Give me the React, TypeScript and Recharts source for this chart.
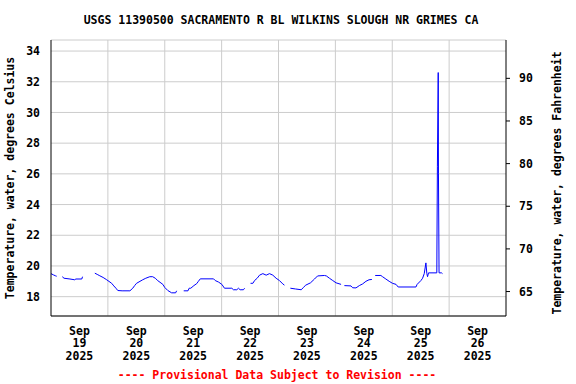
import React from 'react';
import { LineChart, Line, XAxis, YAxis, CartesianGrid, ReferenceLine } from 'recharts';

// hours since Sep 19 2025 00:00 (null = gap in record)
const hours = [
  0, 1, 2, 2.4, 3,
  4.75, 5.5, 8, 10, 10.5, 13, 13.3, 15,
  18.5, 19.5, 20.6, 22, 23.5, 25.6, 26.5, 27.4, 28.2, 30, 33.3, 34.5, 35.3, 36.1,
  38.7, 40, 41.7, 42.9, 44, 45, 47.2, 48, 49.3, 50.9, 52.6, 53, 54.5,
  56, 57.8, 58.3, 59, 60.3, 61.5, 62.2, 63, 68.6, 69.3, 70.7, 72.1, 73.2, 76.3,
  77, 78.4, 79.1, 79.8, 81.2, 81.7, 83,
  84.2, 85.2, 85.9, 87, 88, 89.4, 90.8, 92.2, 93.6, 95, 96.4, 97.8, 98.5, 99.8,
  101, 103.2, 105.6, 106.5, 107.5, 109.5, 111.2, 112.5, 115.4, 116.2, 117.5,
  118.9, 120.3, 122.4, 123.1,
  123.8, 126.6, 127.3, 128.7, 130.1, 131.5, 132.9, 134.2, 135.4, 136.1,
  136.8, 139.2, 139.9, 141.3, 142.7, 144.1, 145.6, 146.5, 154, 154.5, 156.1,
  156.8, 157.5, 158.2, 158.6, 158.9, 159.3, 162.8, 163.05, 163.4, 163.5, 163.75,
  164.8, 165.2,
];

const tempC = [
  19.5, 19.42, 19.35, 19.33, null,
  19.3, 19.2, 19.15, 19.1, 19.15, 19.15, 19.3, null,
  19.53, 19.45, 19.36, 19.25, 19.1, 18.87, 18.7, 18.55, 18.4, 18.38, 18.38, 18.55, 18.72, 18.87,
  19.1, 19.2, 19.3, 19.3, 19.2, 19.05, 18.8, 18.6, 18.4, 18.25, 18.25, 18.38, null,
  18.38, 18.38, 18.55, 18.55, 18.72, 18.85, 19.0, 19.16, 19.16, 19.05, 18.95, 18.8, 18.55, 18.55,
  18.45, 18.45, 18.55, 18.45, 18.45, 18.55, null,
  18.87, 18.87, 19.05, 19.2, 19.4, 19.5, 19.4, 19.5, 19.4, 19.2, 19.05, 18.83, 18.75, null,
  18.55, 18.5, 18.45, 18.6, 18.75, 18.9, 19.15, 19.35, 19.38, 19.35, 19.2,
  19.05, 18.9, 18.8, null,
  18.72, 18.7, 18.58, 18.57, 18.72, 18.83, 19.0, 19.1, 19.12, null,
  19.38, 19.38, 19.3, 19.15, 19.0, 18.87, 18.8, 18.63, 18.63, 18.8, 19.05,
  19.2, 19.5, 20.2, 19.5, 19.3, 19.55, 19.55, 26.5, 32.6, 26.0, 19.55,
  19.55, 19.5,
];

const monthLabel = 'Sep';
const yearLabel = '2025';
const dayLabels = ['19', '20', '21', '22', '23', '24', '25', '26'];
const celsiusTicks = [18, 20, 22, 24, 26, 28, 30, 32, 34];
const fahrenheitTicks = [65, 70, 75, 80, 85, 90];
const midnightTicks = [24, 48, 72, 96, 120, 144, 168];

const cToF = (c: number) => c * 1.8 + 32;
const C_DOMAIN: [number, number] = [16.74, 34.72];
const F_DOMAIN: [number, number] = [cToF(C_DOMAIN[0]), cToF(C_DOMAIN[1])];
const X_DOMAIN: [number, number] = [0, 192];

const data = hours.map((h, i) => ({
  hour: h,
  tempC: tempC[i],
  tempF: tempC[i] == null ? null : cToF(tempC[i] as number),
}));

const labelTicks = dayLabels.map((_, i) => 12 + 24 * i);

const FONT = '"DejaVu Sans Mono", monospace';
const tickStyle = { fill: '#000', fontSize: 11.5, fontFamily: FONT, fontWeight: 'bold' as const };

const DateTick = (props: any) => {
  const { x, y, index } = props;
  return (
    <text x={x} textAnchor="middle" fill="#000" fontSize={11.5} fontFamily={FONT} fontWeight="bold">
      <tspan x={x} y={y + 18.5}>{monthLabel}</tspan>
      <tspan x={x} y={y + 31.3}>{dayLabels[index]}</tspan>
      <tspan x={x} y={y + 44}>{yearLabel}</tspan>
    </text>
  );
};

export default function App() {
  return (
    <div style={{ position: 'absolute', left: 0, top: 0, width: 576, height: 384, background: '#fff' }}>
      <LineChart
        width={576}
        height={384}
        data={data}
        margin={{ top: 40, right: 30, bottom: 18, left: 11 }}
      >
        <CartesianGrid yAxisId="c" vertical={false} stroke="#cccccc" strokeWidth={1} />
        {midnightTicks.map((t) => (
          <ReferenceLine key={t} x={t} yAxisId="c" stroke="#cccccc" strokeWidth={1} />
        ))}
        <XAxis
          dataKey="hour"
          type="number"
          domain={X_DOMAIN}
          ticks={labelTicks}
          interval={0}
          tick={<DateTick />}
          tickLine={false}
          tickSize={0}
          tickMargin={0}
          stroke="#000"
          height={50}
        />
        <XAxis
          xAxisId="top"
          orientation="top"
          dataKey="hour"
          type="number"
          domain={X_DOMAIN}
          tick={false}
          tickLine={false}
          stroke="#000"
          height={0}
        />
        <YAxis
          yAxisId="c"
          type="number"
          domain={C_DOMAIN}
          ticks={celsiusTicks}
          tickLine={false}
          tickSize={0}
          tickMargin={11}
          stroke="#000"
          tick={tickStyle}
          width={40}
        />
        <YAxis
          yAxisId="f"
          orientation="right"
          type="number"
          domain={F_DOMAIN}
          ticks={fahrenheitTicks}
          tickSize={4}
          tickMargin={9}
          stroke="#000"
          tick={tickStyle}
          width={40}
        />
        <Line
          yAxisId="f"
          dataKey="tempF"
          stroke="none"
          dot={false}
          activeDot={false}
          isAnimationActive={false}
        />
        <Line
          yAxisId="c"
          type="linear"
          dataKey="tempC"
          stroke="#0000ff"
          strokeWidth={1}
          dot={false}
          activeDot={false}
          connectNulls={false}
          isAnimationActive={false}
        />
      </LineChart>
      <svg
        width={576}
        height={384}
        style={{ position: 'absolute', left: 0, top: 0, pointerEvents: 'none' }}
      >
        <g fontFamily={FONT} fontWeight="bold" fontSize={11.5}>
          <text x={281} y={24} textAnchor="middle" fill="#000">
            USGS 11390500 SACRAMENTO R BL WILKINS SLOUGH NR GRIMES CA
          </text>
          <text transform="translate(14,178) rotate(-90)" textAnchor="middle" fill="#000">
            Temperature, water, degrees Celsius
          </text>
          <text transform="translate(561,183) rotate(-90)" textAnchor="middle" fill="#000">
            Temperature, water, degrees Fahrenheit
          </text>
          <text x={277} y={379} textAnchor="middle" fill="#ff0000">
            ---- Provisional Data Subject to Revision ----
          </text>
        </g>
      </svg>
    </div>
  );
}
